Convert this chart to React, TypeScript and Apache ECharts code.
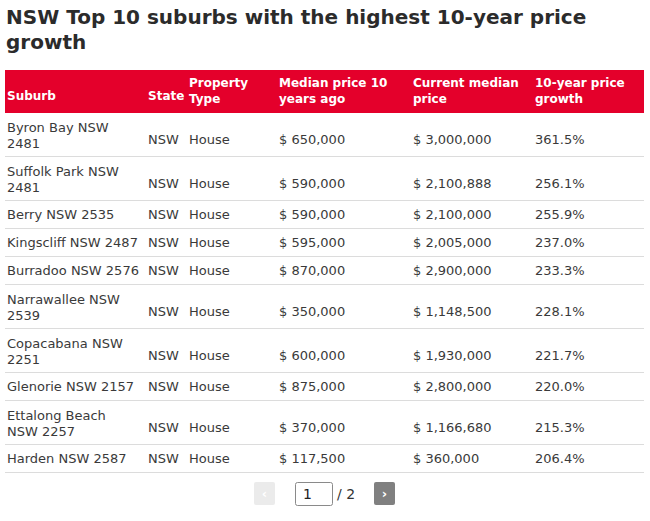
import React, { useEffect, useRef } from "react";
import * as echarts from "echarts";

const titleText = "NSW Top 10 suburbs with the highest 10-year price\ngrowth";
const headers = ["Suburb", "State", "Property\nType", "Median price 10\nyears ago", "Current median\nprice", "10-year price\ngrowth"];
const suburbs = [
  "Byron Bay NSW\n2481",
  "Suffolk Park NSW\n2481",
  "Berry NSW 2535",
  "Kingscliff NSW 2487",
  "Burradoo NSW 2576",
  "Narrawallee NSW\n2539",
  "Copacabana NSW\n2251",
  "Glenorie NSW 2157",
  "Ettalong Beach\nNSW 2257",
  "Harden NSW 2587",
];
const states = ["NSW", "NSW", "NSW", "NSW", "NSW", "NSW", "NSW", "NSW", "NSW", "NSW"];
const propertyTypes = ["House", "House", "House", "House", "House", "House", "House", "House", "House", "House"];
const medianTenYearsAgo = [650000, 590000, 590000, 595000, 870000, 350000, 600000, 875000, 370000, 117500];
const currentMedian = [3000000, 2100888, 2100000, 2005000, 2900000, 1148500, 1930000, 2800000, 1166680, 360000];
const growthPct = [361.5, 256.1, 255.9, 237.0, 233.3, 228.1, 221.7, 220.0, 215.3, 206.4];
const currentPage = 1;
const totalPages = 2;

const FONT = "'DejaVu Sans', sans-serif";
const colX = [7, 148, 189, 279, 413, 535];
const fmtMoney = (v: number) => "$ " + v.toLocaleString("en-US");

export default function App() {
  const ref = useRef<HTMLDivElement>(null);
  useEffect(() => {
    document.body.style.margin = "0";
    if (!ref.current) return;
    const chart = echarts.init(ref.current, null, { renderer: "svg" });
    const els: any[] = [];
    // title
    els.push({
      type: "text", x: 6, y: 4,
      style: { text: titleText, font: `bold 20px ${FONT}`, fill: "#2b2b2b", lineHeight: 25, textVerticalAlign: "top" },
    });
    // header
    els.push({ type: "rect", shape: { x: 5, y: 70, width: 639, height: 43 }, style: { fill: "#e4002b" } });
    headers.forEach((h, i) => {
      const two = h.includes("\n");
      els.push({
        type: "text", x: colX[i], y: two ? 91 : 96,
        style: { text: h, font: `bold 12px ${FONT}`, fill: "#ffffff", lineHeight: 16, textVerticalAlign: "middle" },
      });
    });
    // rows
    let top = 113;
    suburbs.forEach((s, r) => {
      const two = s.includes("\n");
      const h = two ? 44 : 28;
      const cells = [
        s, states[r], propertyTypes[r], fmtMoney(medianTenYearsAgo[r]), fmtMoney(currentMedian[r]), growthPct[r].toFixed(1) + "%",
      ];
      cells.forEach((c, i) => {
        let y = top + 13;
        if (two) y = i === 0 ? top + 22 : top + 26.5;
        els.push({
          type: "text", x: colX[i], y,
          style: { text: c, font: `13px ${FONT}`, fill: "#3a3a3a", lineHeight: 16, textVerticalAlign: "middle" },
        });
      });
      top += h;
      els.push({ type: "line", shape: { x1: 5, y1: top - 0.5, x2: 644, y2: top - 0.5 }, style: { stroke: "#dcdcdc", lineWidth: 1 } });
    });
    // pagination
    els.push({ type: "rect", shape: { x: 254, y: 482, width: 21, height: 23, r: 2 }, style: { fill: "#ebebeb" } });
    els.push({ type: "text", x: 264.5, y: 493.5, style: { text: "‹", font: `bold 13px ${FONT}`, fill: "#ffffff", textAlign: "center", textVerticalAlign: "middle" } });
    els.push({ type: "rect", shape: { x: 295.5, y: 482.5, width: 37, height: 23, r: 2 }, style: { fill: "#ffffff", stroke: "#8a8a8a", lineWidth: 1 } });
    els.push({ type: "text", x: 303, y: 494, style: { text: String(currentPage), font: `14px ${FONT}`, fill: "#222222", textVerticalAlign: "middle" } });
    els.push({ type: "text", x: 337, y: 494, style: { text: "/ " + totalPages, font: `14px ${FONT}`, fill: "#333333", textVerticalAlign: "middle" } });
    els.push({ type: "rect", shape: { x: 374, y: 482, width: 21, height: 23, r: 2 }, style: { fill: "#808080" } });
    els.push({ type: "text", x: 384.5, y: 493.5, style: { text: "›", font: `bold 13px ${FONT}`, fill: "#ffffff", textAlign: "center", textVerticalAlign: "middle" } });

    chart.setOption({ animation: false, backgroundColor: "#ffffff", graphic: els });
    return () => chart.dispose();
  }, []);
  return <div ref={ref} style={{ width: 650, height: 521 }} />;
}
